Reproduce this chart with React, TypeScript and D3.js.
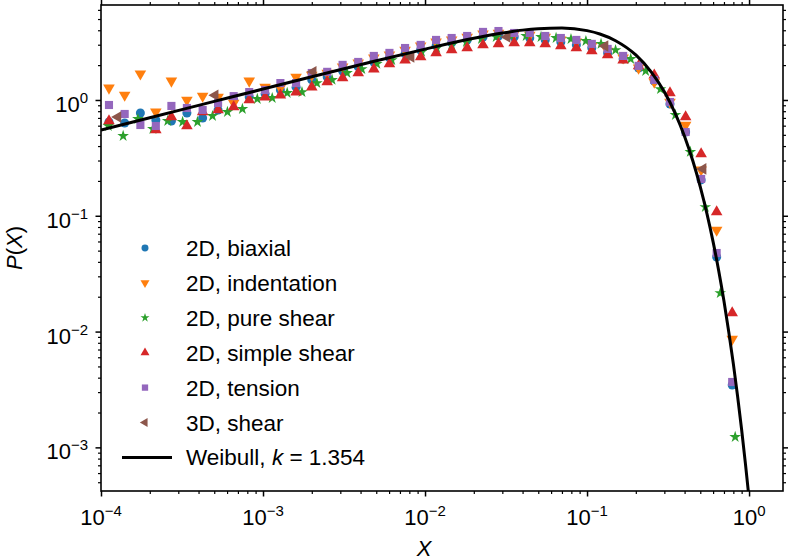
import React, { useEffect, useRef } from "react";
import * as d3 from "d3";

// bin centres shared by biaxial, indentation, simple shear and tension
const binX = [
  1.12e-4, 1.4e-4, 1.75e-4, 2.18e-4, 2.72e-4, 3.39e-4, 4.24e-4, 5.28e-4, 6.59e-4, 8.22e-4,
  1.03e-3, 1.28e-3, 1.6e-3, 2.0e-3, 2.49e-3, 3.1e-3, 3.87e-3, 4.83e-3, 6.03e-3, 7.53e-3,
  9.4e-3, 1.17e-2, 1.46e-2, 1.82e-2, 2.28e-2, 2.84e-2, 3.55e-2, 4.43e-2, 5.52e-2, 6.89e-2,
  8.59e-2, 0.107, 0.134, 0.167, 0.208, 0.26, 0.325, 0.406, 0.506, 0.631, 0.787,
];
const biaxial = [
  0.646, 0.633, 0.772, 0.672, 0.659, 0.772, 0.699, 0.82, 1.0, 1.06,
  1.13, 1.22, 1.29, 1.49, 1.58, 1.78, 1.93, 2.13, 2.31, 2.5,
  2.7, 2.93, 3.11, 3.3, 3.5, 3.57, 3.5, 3.43, 3.3, 3.17,
  2.99, 2.81, 2.55, 2.26, 1.89, 1.46, 0.924, 0.529, 0.204, 0.0441, 0.00346,
];
const indentation = [
  1.27, 1.1, 1.68, 0.788, 1.46, 1.0, 1.08, 1.06, 0.942, 1.46,
  1.29, 1.27, 1.58, 1.64, 1.71, 1.93, 2.09, 2.31, 2.45, 2.7,
  2.93, 3.17, 3.3, 3.5, 3.72, 3.79, 3.72, 3.64, 3.5, 3.3,
  3.17, 2.93, 2.65, 2.31, 1.89, 1.43, 0.961, 0.608, 0.249, 0.0754, 0.00863,
];
const simpleShear = [
  0.659, null, null, 0.551, 0.713, 0.596, 0.788, 0.82, 0.87, 1.0,
  1.06, 1.1, 1.17, 1.29, 1.43, 1.55, 1.71, 1.85, 2.05, 2.21,
  2.35, 2.55, 2.7, 2.81, 2.99, 3.05, 3.11, 3.11, 3.05, 2.93,
  2.81, 2.65, 2.45, 2.21, 1.97, 1.64, 1.15, 0.713, 0.342, 0.108, 0.01446,
];
const tension = [
  0.905, 0.757, 0.608, 0.596, 0.888, 0.853, 0.82, 0.942, 1.08, 1.17,
  1.22, 1.4, 1.4, 1.71, 1.75, 2.01, 2.13, 2.4, 2.55, 2.81,
  2.99, 3.3, 3.43, 3.57, 3.87, 3.94, 3.79, 3.79, 3.57, 3.43,
  3.3, 3.05, 2.76, 2.4, 1.97, 1.49, 0.961, 0.529, 0.208, 0.0477, 0.00367,
];

// pure shear has its own, slightly narrower bins
const pureShearX = [
  1.11e-4, 1.37e-4, 1.69e-4, 2.09e-4, 2.58e-4, 3.19e-4, 3.94e-4, 4.88e-4, 6.03e-4, 7.46e-4,
  9.22e-4, 1.14e-3, 1.41e-3, 1.74e-3, 2.15e-3, 2.67e-3, 3.3e-3, 4.07e-3, 5.04e-3, 6.23e-3,
  7.69e-3, 9.52e-3, 1.18e-2, 1.46e-2, 1.8e-2, 2.23e-2, 2.75e-2, 3.4e-2, 4.21e-2, 5.2e-2,
  6.44e-2, 7.96e-2, 9.84e-2, 0.122, 0.15, 0.186, 0.23, 0.284, 0.351, 0.434,
  0.537, 0.664, 0.821,
];
const pureShear = [
  0.596, 0.489, 0.685, 0.562, 0.659, 0.646, 0.646, 0.727, 0.788, 0.836,
  1.02, 1.04, 1.15, 1.17, 1.4, 1.49, 1.71, 1.85, 2.05, 2.21,
  2.4, 2.6, 2.81, 2.99, 3.17, 3.36, 3.5, 3.57, 3.57, 3.5,
  3.43, 3.36, 3.23, 3.05, 2.7, 2.26, 1.78, 1.24, 0.742, 0.356,
  0.119, 0.0215, 0.00123,
];

// 3D shear: coarse bins
const shear3dX = [1.27e-4, 5.06e-4, 2.04e-3, 8.2e-3, 3.21e-2, 0.129, 0.52];
const shear3d = [0.713, 1.1, 1.75, 2.35, 3.5, 2.93, 0.254];

// Weibull fit, k = 1.354
const weibullX = [
  1e-4, 2e-4, 5e-4, 1e-3, 2e-3, 5e-3, 1e-2, 2e-2, 3e-2, 4e-2, 5e-2, 7e-2, 0.1, 0.12,
  0.15, 0.2, 0.25, 0.3, 0.35, 0.4, 0.45, 0.5, 0.55, 0.6, 0.65, 0.7, 0.75, 0.8, 0.85,
  0.9, 0.95, 1.0, 1.05,
];
const weibullP = [
  0.55, 0.703, 0.972, 1.242, 1.585, 2.18, 2.75, 3.41, 3.78, 4.01, 4.13, 4.19, 3.97, 3.715,
  3.25, 2.448, 1.733, 1.176, 0.766, 0.484, 0.297, 0.1777, 0.1038, 0.0595, 0.0334, 0.01835,
  0.00988, 0.00526, 0.00275, 0.00142, 7.2e-4, 3.62e-4, 1.77e-4,
];

const xTicks = [1e-4, 1e-3, 1e-2, 1e-1, 1];
const xTickExp = ["\u22124", "\u22123", "\u22122", "\u22121", "0"];
const yTicks = [1e-3, 1e-2, 1e-1, 1];
const yTickExp = ["\u22123", "\u22122", "\u22121", "0"];

const series = [
  { name: "2D, biaxial", color: "#1f77b4", shape: d3.symbolCircle, size: 64, rot: 0, xs: binX, ys: biaxial },
  { name: "2D, indentation", color: "#ff7f0e", shape: d3.symbolTriangle, size: 58, rot: 180, xs: binX, ys: indentation },
  { name: "2D, pure shear", color: "#2ca02c", shape: d3.symbolStar, size: 42, rot: 0, xs: pureShearX, ys: pureShear },
  { name: "2D, simple shear", color: "#d62728", shape: d3.symbolTriangle, size: 58, rot: 0, xs: binX, ys: simpleShear },
  { name: "2D, tension", color: "#9467bd", shape: d3.symbolSquare, size: 66, rot: 0, xs: binX, ys: tension },
  { name: "3D, shear", color: "#8c564b", shape: d3.symbolTriangle, size: 58, rot: -90, xs: shear3dX, ys: shear3d },
];

const FONT = "'Liberation Sans', Arial, Helvetica, sans-serif";

function Chart() {
  const chart = useRef(null);

  useEffect(() => {
    const width = 788;
    const height = 560;
    const margin = { top: 5, right: 5, bottom: 69, left: 101 };
    const w = width - margin.left - margin.right;
    const h = height - margin.top - margin.bottom;

    const svg = d3.select(chart.current)
      .attr("width", width)
      .attr("height", height)
      .style("font-family", FONT);

    const g = svg.append("g")
      .attr("transform", `translate(${margin.left},${margin.top})`);

    const x = d3.scaleLog().domain([1e-4, 1.62]).range([0, w]);
    const y = d3.scaleLog().domain([4.2e-4, 6.61]).range([h, 0]);

    g.append("clipPath").attr("id", "plot-clip")
      .append("rect").attr("width", w).attr("height", h);

    // ticks on all four sides, pointing out
    const minorX = x.ticks().filter(t => !xTicks.some(m => Math.abs(m - t) / m < 1e-6));
    const minorY = y.ticks().filter(t => !yTicks.some(m => Math.abs(m - t) / m < 1e-6));
    const axes = [
      { fn: d3.axisBottom, scale: x, major: xTicks, minor: minorX, tr: `translate(0,${h})` },
      { fn: d3.axisTop, scale: x, major: xTicks, minor: minorX, tr: "translate(0,0)" },
      { fn: d3.axisLeft, scale: y, major: yTicks, minor: minorY, tr: "translate(0,0)" },
      { fn: d3.axisRight, scale: y, major: yTicks, minor: minorY, tr: `translate(${w},0)` },
    ];
    axes.forEach(a => {
      g.append("g").attr("transform", a.tr)
        .call(a.fn(a.scale).tickValues(a.minor).tickSize(3).tickSizeOuter(0).tickFormat(() => ""))
        .call(s => s.select(".domain").remove())
        .selectAll("line").attr("stroke", "#000").attr("stroke-width", 1.2);
      g.append("g").attr("transform", a.tr)
        .call(a.fn(a.scale).tickValues(a.major).tickSize(5.5).tickSizeOuter(0).tickFormat(() => ""))
        .call(s => s.select(".domain").remove())
        .selectAll("line").attr("stroke", "#000").attr("stroke-width", 1.5);
    });

    // tick labels, 10 with superscript exponent
    xTicks.forEach((t, i) => {
      const txt = g.append("text")
        .attr("x", x(t)).attr("y", h + 34)
        .attr("text-anchor", "middle")
        .attr("font-size", 22);
      txt.append("tspan").text("10");
      txt.append("tspan").attr("font-size", 15).attr("dy", -9).text(xTickExp[i]);
    });
    yTicks.forEach((t, i) => {
      const txt = g.append("text")
        .attr("x", -13).attr("y", y(t) + 12)
        .attr("text-anchor", "end")
        .attr("font-size", 22);
      txt.append("tspan").text("10");
      txt.append("tspan").attr("font-size", 15).attr("dy", -9).text(yTickExp[i]);
    });

    // axis titles
    g.append("text")
      .attr("x", 424 - margin.left).attr("y", 556 - margin.top)
      .attr("text-anchor", "middle").attr("font-size", 22)
      .attr("font-style", "italic").text("X");
    const yl = g.append("text")
      .attr("transform", `translate(${22 - margin.left},${248 - margin.top}) rotate(-90)`)
      .attr("text-anchor", "middle").attr("font-size", 22);
    yl.append("tspan").attr("font-style", "italic").text("P");
    yl.append("tspan").text("(");
    yl.append("tspan").attr("font-style", "italic").text("X");
    yl.append("tspan").text(")");

    // scatter points
    const plot = g.append("g").attr("clip-path", "url(#plot-clip)");
    series.forEach(s => {
      const pts = s.xs.map((d, i) => ({ x: d, p: s.ys[i] })).filter(d => d.p != null);
      plot.selectAll(null)
        .data(pts)
        .enter()
        .append("path")
          .attr("d", d3.symbol().type(s.shape).size(s.size)())
          .attr("transform", d => `translate(${x(d.x)},${y(d.p)}) rotate(${s.rot})`)
          .attr("fill", s.color);
    });

    // Weibull fit
    const line = d3.line()
      .x(d => x(d[0]))
      .y(d => y(d[1]))
      .curve(d3.curveMonotoneX);
    plot.append("path")
      .datum(weibullX.map((d, i) => [d, weibullP[i]]))
      .attr("d", line)
      .attr("fill", "none")
      .attr("stroke", "#000")
      .attr("stroke-width", 3);

    // frame
    g.append("rect")
      .attr("width", w).attr("height", h)
      .attr("fill", "none").attr("stroke", "#000").attr("stroke-width", 1.6);

    // legend
    const legend = g.append("g");
    const rowY = d => 248 - margin.top + d * 34.9;
    series.forEach((s, i) => {
      legend.append("path")
        .attr("d", d3.symbol().type(s.shape).size(s.size * 0.6)())
        .attr("transform", `translate(${145 - margin.left},${rowY(i)}) rotate(${s.rot})`)
        .attr("fill", s.color);
      legend.append("text")
        .attr("x", 186 - margin.left).attr("y", rowY(i) + 8)
        .attr("font-size", 22.5).text(s.name);
    });
    legend.append("line")
      .attr("x1", 122 - margin.left).attr("x2", 172 - margin.left)
      .attr("y1", rowY(6)).attr("y2", rowY(6))
      .attr("stroke", "#000").attr("stroke-width", 3);
    const wt = legend.append("text")
      .attr("x", 186 - margin.left).attr("y", rowY(6) + 8)
      .attr("font-size", 22.5);
    wt.append("tspan").text("Weibull, ");
    wt.append("tspan").attr("font-style", "italic").text("k");
    wt.append("tspan").text(" = 1.354");

    return () => {
      svg.selectAll("*").remove();
    };
  }, []);

  return (
    <svg ref={chart} style={{ position: "absolute", left: 0, top: 0, background: "#fff" }}></svg>
  );
}

export default function App() {
  return <Chart />;
}
